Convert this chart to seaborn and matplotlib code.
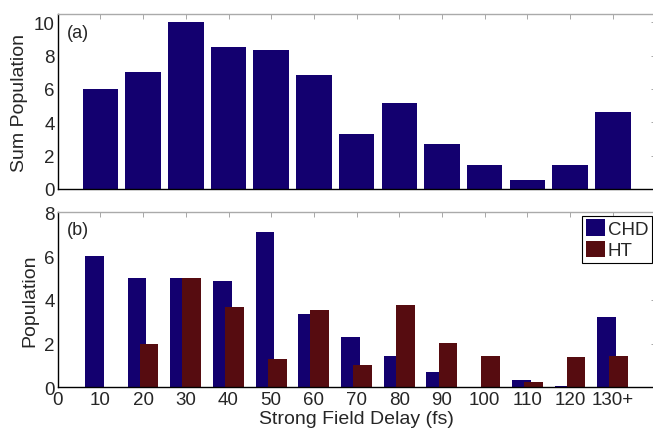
import pandas as pd
import matplotlib
matplotlib.use("Agg")
import matplotlib.pyplot as plt
import seaborn as sns

# data
delays = [0, 10, 20, 30, 40, 50, 60, 70, 80, 90, 100, 110, 120, 130]
tick_labels = ['0', '10', '20', '30', '40', '50', '60', '70', '80', '90',
               '100', '110', '120', '130+']
sum_population = [0, 6.0, 7.0, 10.0, 8.52, 8.36, 6.86, 3.3, 5.16, 2.7, 1.42, 0.55, 1.42, 4.62]
chd = [0, 6.0, 5.0, 5.0, 4.86, 7.08, 3.34, 2.32, 1.41, 0.71, 0.0, 0.35, 0.07, 3.21]
ht = [0, 0.0, 2.0, 5.0, 3.67, 1.31, 3.53, 1.0, 3.77, 2.03, 1.44, 0.23, 1.4, 1.45]

blue = '#13006f'
red = '#560c10'

sns.set_theme(style="white")
plt.rcParams['font.family'] = ['Liberation Sans', 'DejaVu Sans']
plt.rcParams['font.size'] = 13.5

df_sum = pd.DataFrame({'delay': delays, 'pop': sum_population})
df_pair = pd.DataFrame({
    'delay': delays * 2,
    'pop': chd + ht,
    'series': ['CHD'] * len(delays) + ['HT'] * len(delays),
})

fig = plt.figure(figsize=(6.53, 4.35), dpi=100)
W, H = 653, 435
left, right = 57.7, 655.5
ax1 = fig.add_axes([left / W, 1 - 190 / H, (right - left) / W, 175 / H])
ax2 = fig.add_axes([left / W, 1 - 388.3 / H, (right - left) / W, 175 / H])

# (a) summed population
sns.barplot(data=df_sum, x='delay', y='pop', native_scale=True, width=0.83,
            color=blue, saturation=1, errorbar=None, edgecolor='none', ax=ax1)

# (b) CHD / HT side by side, slightly overlapping
sns.barplot(data=df_pair, x='delay', y='pop', hue='series', native_scale=True,
            dodge=False, width=0.44, palette={'CHD': blue, 'HT': red},
            hue_order=['CHD', 'HT'], saturation=1, errorbar=None,
            edgecolor='none', ax=ax2)
for cont, dx in zip(ax2.containers, [-1.45, 1.4]):
    for bar in cont:
        bar.set_x(bar.get_x() + dx)

for ax in (ax1, ax2):
    ax.set_xlim(0, 140)
    ax.set_xticks(delays)
    ax.set_xticklabels(tick_labels)
    ax.tick_params(direction='in', length=3.6, width=0.6, color='#999999',
                   top=True, right=True, labelsize=13.5, pad=2.0)
    ax.tick_params(axis='x', pad=3.0)
    for s in ('left', 'bottom'):
        ax.spines[s].set_color('black')
        ax.spines[s].set_linewidth(1.0)
    for s in ('top', 'right'):
        ax.spines[s].set_color('#aaaaaa')
        ax.spines[s].set_linewidth(1.0)

ax1.set_ylim(0, 10.5)
ax1.set_yticks([0, 2, 4, 6, 8, 10])
ax1.tick_params(labelbottom=False)
ax1.set_xlabel('')
ax1.set_ylabel('Sum Population', fontsize=14, labelpad=4)
ax1.text(0.015, 0.94, '(a)', transform=ax1.transAxes, va='top', ha='left', fontsize=13)

ax2.set_ylim(0, 8)
ax2.set_yticks([0, 2, 4, 6, 8])
ax2.set_xlabel('Strong Field Delay (fs)', fontsize=14, labelpad=1)
ax2.set_ylabel('Population', fontsize=14, labelpad=4)
ax2.text(0.015, 0.95, '(b)', transform=ax2.transAxes, va='top', ha='left', fontsize=13)

leg = ax2.get_legend()
handles = leg.legend_handles
labels = [t.get_text() for t in leg.get_texts()]
leg.remove()
ax2.legend(handles, labels, loc='upper right', bbox_to_anchor=(0.994, 0.981),
           borderaxespad=0, frameon=True, fancybox=False, edgecolor='black',
           framealpha=1, fontsize=13.5, handlelength=1.0, handleheight=0.95,
           handletextpad=0.15, labelspacing=0.15, borderpad=0.2)
ax2.get_legend().get_frame().set_linewidth(0.8)

fig.savefig('out.png', dpi=100)
